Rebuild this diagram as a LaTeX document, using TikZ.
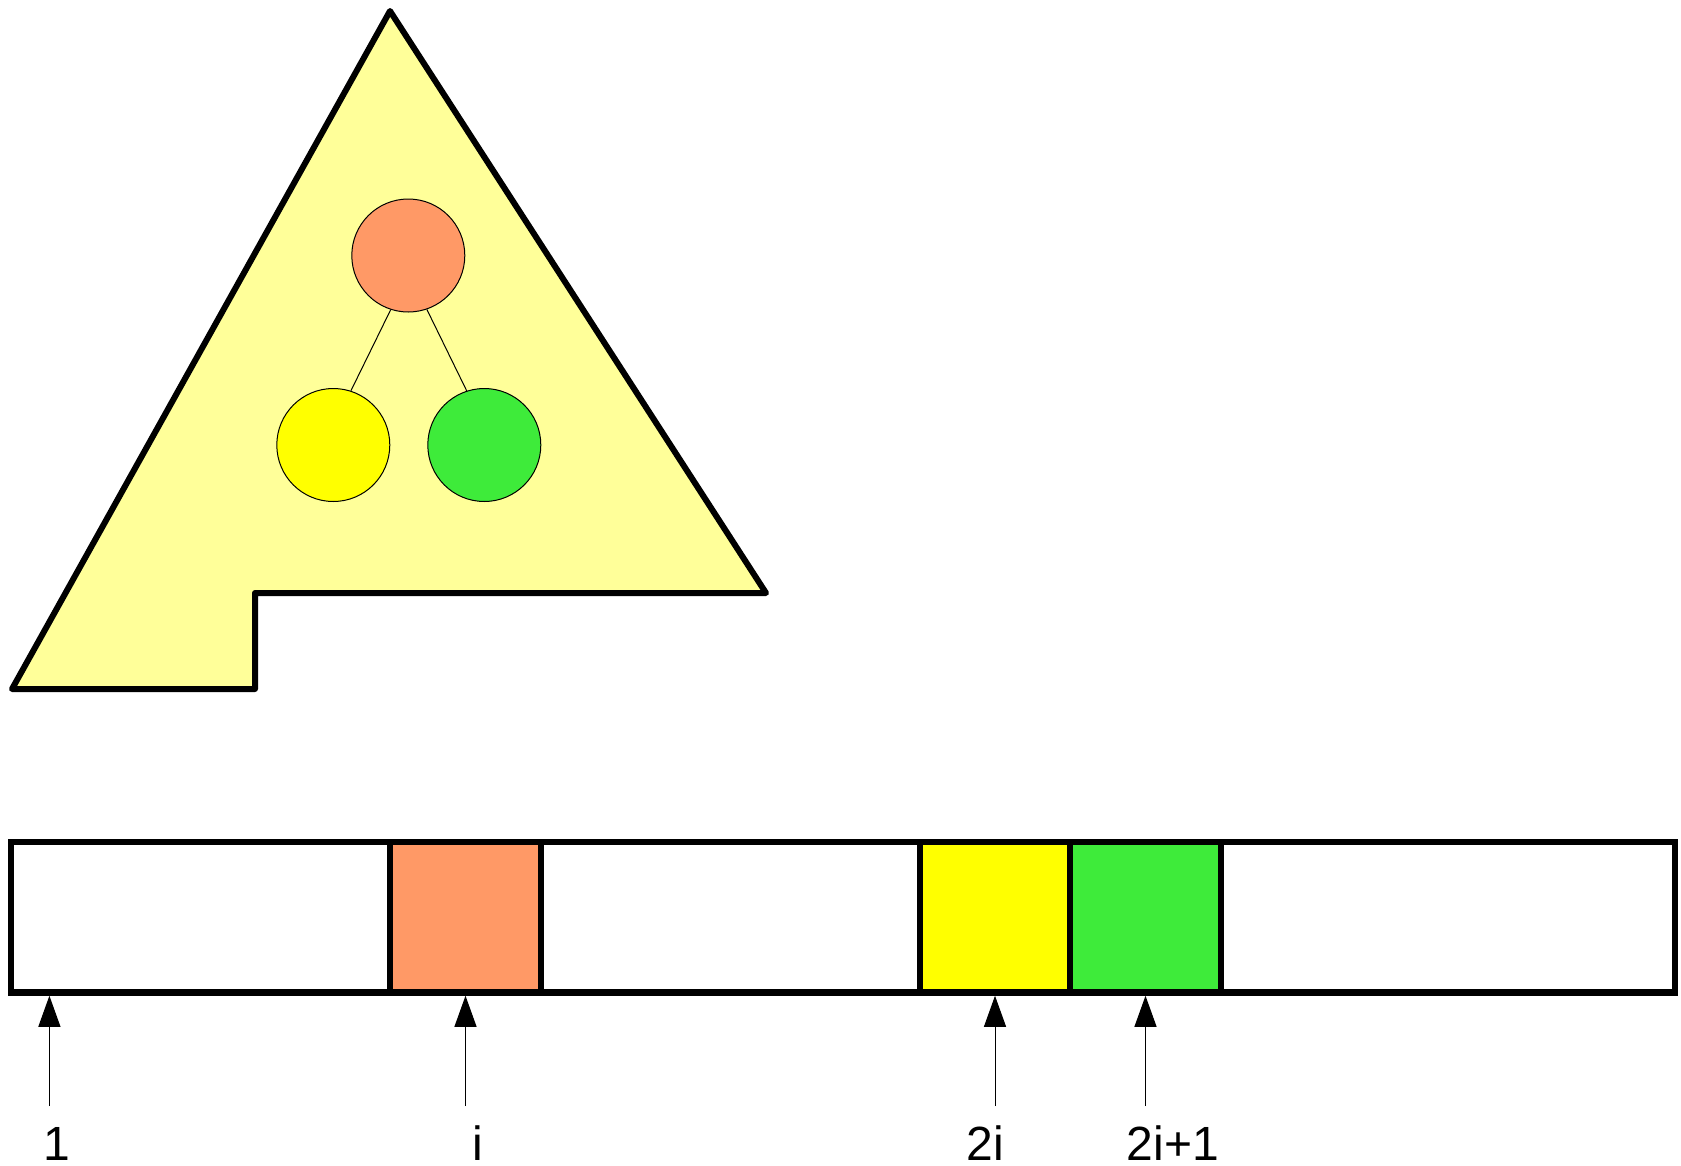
\documentclass[tikz,border=0pt]{standalone}
\usepackage{fontspec}
\setmainfont{Liberation Sans}
\usetikzlibrary{arrows.meta,positioning,calc}
\definecolor{paleyel}{RGB}{255,255,153}
\definecolor{rootorg}{RGB}{255,153,102}
\definecolor{leftyel}{RGB}{255,255,0}
\definecolor{rightgrn}{RGB}{62,235,58}
\tikzset{
  heapnode/.style={circle,draw,line width=1pt,minimum size=113pt,inner sep=0pt},
  cell/.style={draw,line width=6.5pt,minimum width=151pt,minimum height=150.5pt,inner sep=0pt},
  idx/.style={anchor=base,inner sep=0pt,font=\fontsize{48}{50}\selectfont}
}

\begin{document}
\begin{tikzpicture}[x=1pt,y=-1pt,>={Triangle[length=31pt,width=22pt]}]
\useasboundingbox (0,0) rectangle (1681,1165);
\draw[line width=6pt,line join=round,fill=paleyel] (390,11)--(766,593)--(255,593)--(255,689)--(12,689)--cycle;
\node[heapnode,fill=rootorg] (root) at (408.3,255.5) {};
\node[heapnode,fill=leftyel] (lchild) at (333.3,445) {};\node[heapnode,fill=rightgrn] (rchild) at (484.3,445) {};
\draw[line width=1pt] (root.252)--(lchild.72);\draw[line width=1pt] (root.289)--(rchild.108);
% array
\node[cell,minimum width=1664pt] (bar) at (843,917.25) {};
\node[cell,fill=rootorg] (ci) at (465.5,917.25) {};
\node[cell,fill=leftyel,minimum width=150pt] (c2i) at (995,917.25) {};\node[cell,fill=rightgrn] (c2i1) at (1145.5,917.25) {};
\coordinate (p1) at (49.4,1106);\coordinate (pi) at (465.5,1106);\coordinate (p2i) at (995,1106);\coordinate (p2i1) at (1145.5,1106);
\draw[->,line width=1pt] (p1)--(p1 |- bar.south);\draw[->,line width=1pt] (pi)--(ci.south);
\draw[->,line width=1pt] (p2i)--(c2i.south);\draw[->,line width=1pt] (p2i1)--(c2i1.south);
\node[idx] (l1) at (56.6,1160) {1};\node[idx] (li) at (478,1160) {i};
\node[idx] (l2i) at (985,1160) {2i};\node[idx] (l2i1) at (1173,1160) {2i+1};
\end{tikzpicture}
\end{document}
